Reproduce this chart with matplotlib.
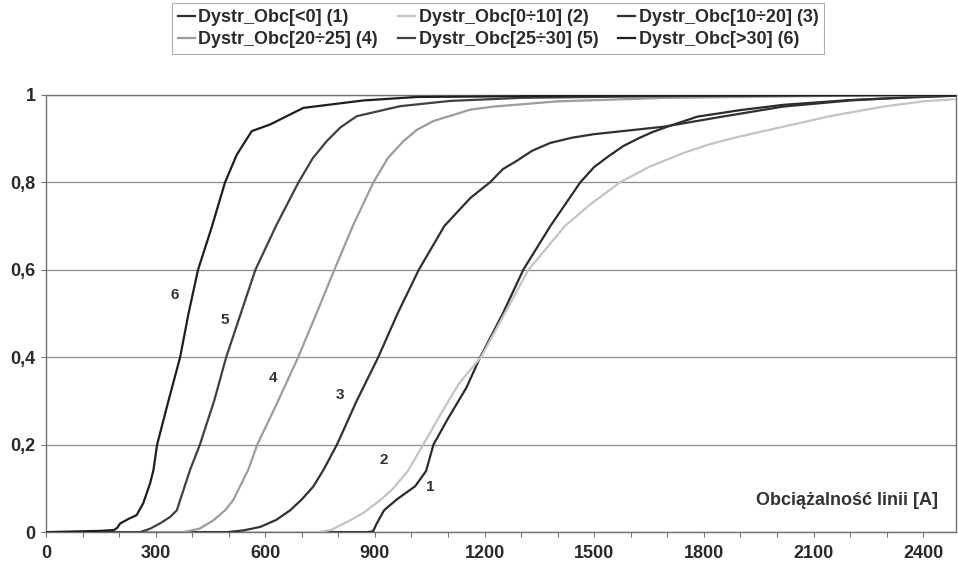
import numpy as np
import matplotlib
matplotlib.use("Agg")
import matplotlib.pyplot as plt
from matplotlib.ticker import MultipleLocator, FuncFormatter

plt.rcParams["font.family"] = ["Liberation Sans", "DejaVu Sans"]
plt.rcParams["font.weight"] = "bold"

# --- data (cumulative distributions) ----------------------------------------
x1 = [0, 880, 895, 905, 925, 960, 1010, 1040, 1060, 1100, 1150, 1188, 1250, 1306,
      1380, 1462, 1500, 1540, 1580, 1620, 1660, 1700, 1782, 1900, 2017, 2200, 2400, 2490]
y1 = [0, 0, 0.002, 0.02, 0.05, 0.075, 0.105, 0.14, 0.2, 0.26, 0.33, 0.4, 0.5, 0.6,
      0.7, 0.8, 0.835, 0.86, 0.883, 0.9, 0.915, 0.927, 0.95, 0.965, 0.977, 0.988, 0.995, 0.998]

x2 = [0, 741, 780, 832, 870, 914, 950, 990, 1032, 1080, 1130, 1190, 1255, 1320,
      1420, 1490, 1571, 1650, 1744, 1820, 1900, 2017, 2150, 2291, 2400, 2490]
y2 = [0, 0, 0.005, 0.027, 0.045, 0.073, 0.1, 0.14, 0.2, 0.27, 0.34, 0.4, 0.5, 0.6,
      0.7, 0.75, 0.8, 0.835, 0.867, 0.888, 0.905, 0.927, 0.952, 0.973, 0.985, 0.99]

x3 = [0, 495, 540, 586, 630, 668, 700, 731, 759, 796, 850, 909, 962, 1020, 1090,
      1161, 1215, 1250, 1290, 1330, 1380, 1440, 1500, 1690, 1850, 2017, 2200, 2365, 2490]
y3 = [0, 0, 0.004, 0.012, 0.028, 0.05, 0.075, 0.104, 0.142, 0.2, 0.3, 0.4, 0.5, 0.6,
      0.7, 0.764, 0.8, 0.83, 0.85, 0.872, 0.89, 0.902, 0.91, 0.927, 0.95, 0.973, 0.987,
      0.995, 0.998]

x4 = [0, 376, 420, 458, 490, 512, 553, 578, 635, 690, 740, 789, 841, 896, 935, 978,
      1015, 1060, 1161, 1224, 1400, 1700, 2100, 2490]
y4 = [0, 0, 0.008, 0.027, 0.05, 0.073, 0.142, 0.2, 0.3, 0.4, 0.5, 0.6, 0.703, 0.8,
      0.855, 0.894, 0.92, 0.94, 0.966, 0.973, 0.985, 0.993, 0.997, 1.0]

x5 = [0, 257, 285, 312, 340, 358, 376, 394, 421, 460, 493, 533, 573, 631, 691, 730,
      768, 805, 850, 969, 1106, 1300, 1700, 2490]
y5 = [0, 0, 0.008, 0.02, 0.035, 0.05, 0.096, 0.142, 0.2, 0.3, 0.4, 0.5, 0.6, 0.703,
      0.8, 0.855, 0.894, 0.925, 0.951, 0.974, 0.986, 0.993, 0.997, 1.0]

x6 = [0, 150, 186, 195, 203, 225, 248, 266, 285, 294, 304, 335, 367, 390, 416, 453,
      490, 522, 563, 613, 704, 868, 1015, 1500, 2490]
y6 = [0, 0.003, 0.005, 0.01, 0.02, 0.03, 0.039, 0.066, 0.112, 0.142, 0.2, 0.3, 0.4,
      0.5, 0.6, 0.696, 0.8, 0.863, 0.917, 0.932, 0.97, 0.987, 0.995, 0.998, 1.0]

labels = ["Dystr_Obc[<0] (1)", "Dystr_Obc[0÷10] (2)", "Dystr_Obc[10÷20] (3)",
          "Dystr_Obc[20÷25] (4)", "Dystr_Obc[25÷30] (5)", "Dystr_Obc[>30] (6)"]
tags = ["1", "2", "3", "4", "5", "6"]
tag_x = [1051, 923, 805, 621, 490, 353]
tag_y = [0.103, 0.165, 0.313, 0.352, 0.485, 0.542]

series = [(x1, y1), (x2, y2), (x3, y3), (x4, y4), (x5, y5), (x6, y6)]
colors = ["#2b2b2b", "#c4c4c4", "#303030", "#9c9c9c", "#404040", "#1e1e1e"]

# --- figure -----------------------------------------------------------------
fig = plt.figure(figsize=(9.58, 5.71), dpi=100)
ax = fig.add_axes([0.048, 0.068, 0.950, 0.766])

handles = []
for (xs, ys), c, lab in zip(series, colors, labels):
    h, = ax.plot(xs, ys, color=c, lw=1.6, label=lab, zorder=3)
    handles.append(h)

for t, tx, ty in zip(tags, tag_x, tag_y):
    ax.text(tx, ty, t, fontsize=11, fontweight="bold", color="#333333",
            ha="center", va="center")

ax.text(2440, 0.072, "Obciążalność linii [A]", fontsize=13, fontweight="bold",
        color="#333333", ha="right", va="center")

ax.set_xlim(0, 2490)
ax.set_ylim(0, 1)
ax.xaxis.set_major_locator(MultipleLocator(300))
ax.xaxis.set_minor_locator(MultipleLocator(100))
ax.yaxis.set_major_locator(MultipleLocator(0.2))
ax.yaxis.set_major_formatter(FuncFormatter(
    lambda v, p: "0" if abs(v) < 1e-9 else ("1" if abs(v - 1) < 1e-9 else f"{v:.1f}".replace(".", ","))))
ax.tick_params(axis="both", which="both", direction="out", length=3.5, width=0.8,
               color="#777777", labelsize=13, labelcolor="#2a2a2a")
ax.tick_params(axis="x", pad=6)
ax.tick_params(axis="y", pad=4)
for lab in ax.get_xticklabels() + ax.get_yticklabels():
    lab.set_fontweight("bold")

ax.grid(axis="y", color="#8a8a8a", lw=0.9)
ax.set_axisbelow(True)
for s in ax.spines.values():
    s.set_color("#707070")
    s.set_linewidth(1.0)

# row-major order like the original: (1 2 3) / (4 5 6)
order = [0, 3, 1, 4, 2, 5]
leg = fig.legend(handles=[handles[i] for i in order], loc="upper center",
                 bbox_to_anchor=(0.52, 0.994), borderaxespad=0, ncol=3, fontsize=13,
                 frameon=True, fancybox=False, handlelength=0.95, handletextpad=0.2,
                 columnspacing=1.1, borderpad=0.3, labelspacing=0.3)
leg.get_frame().set_edgecolor("#9a9a9a")
leg.get_frame().set_linewidth(0.8)
for t in leg.get_texts():
    t.set_fontweight("bold")
    t.set_color("#2a2a2a")

fig.savefig("out.png", dpi=100)
